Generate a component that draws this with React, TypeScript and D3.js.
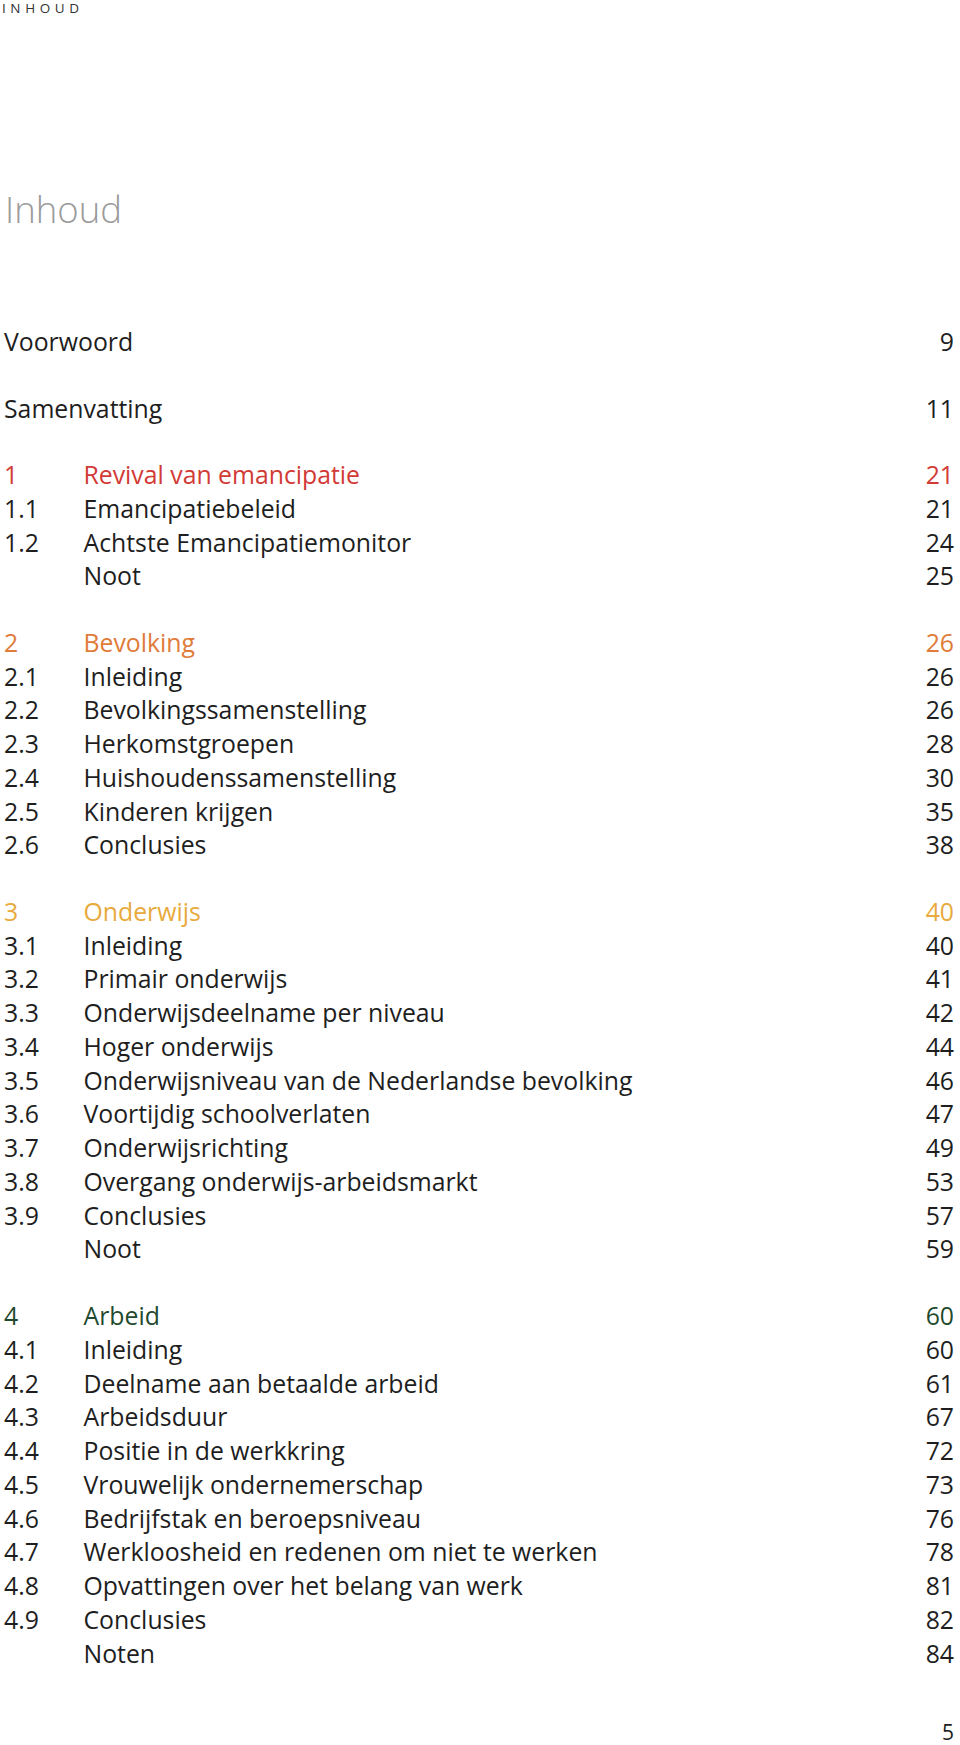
import React from "react";
import * as d3 from "d3";

const headerLabel = "INHOUD";
const pageTitle = "Inhoud";
const pageNumber = "5";

const sectionColors = ["#d23a35", "#e07b3a", "#e8aa3c", "#1f4a2e"];

const numbers = [
  "", "",
  "1", "1.1", "1.2", "",
  "2", "2.1", "2.2", "2.3", "2.4", "2.5", "2.6",
  "3", "3.1", "3.2", "3.3", "3.4", "3.5", "3.6", "3.7", "3.8", "3.9", "",
  "4", "4.1", "4.2", "4.3", "4.4", "4.5", "4.6", "4.7", "4.8", "4.9", "",
];
const titles = [
  "Voorwoord", "Samenvatting",
  "Revival van emancipatie", "Emancipatiebeleid", "Achtste Emancipatiemonitor", "Noot",
  "Bevolking", "Inleiding", "Bevolkingssamenstelling", "Herkomstgroepen", "Huishoudenssamenstelling", "Kinderen krijgen", "Conclusies",
  "Onderwijs", "Inleiding", "Primair onderwijs", "Onderwijsdeelname per niveau", "Hoger onderwijs",
  "Onderwijsniveau van de Nederlandse bevolking", "Voortijdig schoolverlaten", "Onderwijsrichting",
  "Overgang onderwijs-arbeidsmarkt", "Conclusies", "Noot",
  "Arbeid", "Inleiding", "Deelname aan betaalde arbeid", "Arbeidsduur", "Positie in de werkkring",
  "Vrouwelijk ondernemerschap", "Bedrijfstak en beroepsniveau", "Werkloosheid en redenen om niet te werken",
  "Opvattingen over het belang van werk", "Conclusies", "Noten",
];
const pages = [
  "9", "11",
  "21", "21", "24", "25",
  "26", "26", "26", "28", "30", "35", "38",
  "40", "40", "41", "42", "44", "46", "47", "49", "53", "57", "59",
  "60", "60", "61", "67", "72", "73", "76", "78", "81", "82", "84",
];
// index of section heading rows (chapter colour)
const chapterRows = [2, 6, 13, 24];
// rows preceded by a blank line
const gapRows = [1, 2, 6, 13, 24];

const W = 960;
const H = 1745;
const LINE = 33.75;
const GAP = 32.8;
const FIRST = 351;
const font = "'Open Sans', 'Noto Sans', sans-serif";

export default function App() {
  let y = FIRST;
  const rows = titles.map((t, i) => {
    if (i > 0) y += LINE + (gapRows.includes(i) ? GAP : 0);
    const ci = chapterRows.indexOf(i);
    return { num: numbers[i], title: t, page: pages[i], y, color: ci >= 0 ? sectionColors[ci] : "#1e1e1e" };
  });
  const xNum = 4;
  const xTitle = 83.5;
  const xPage = 954;
  const fs = 24.8;
  return (
    <svg width={W} height={H} style={{ position: "absolute", left: 0, top: 0, background: "#fff" }}>
      <text x={2} y={12.5} fontFamily={font} fontSize={13.5} letterSpacing={4.6} fill="#333">
        {headerLabel}
      </text>
      <text x={5} y={223} fontFamily={font} fontSize={36.5} fontWeight={300} fill="#9a9a9a">
        {pageTitle}
      </text>
      {rows.map((r, i) => (
        <g key={i} fill={r.color} fontFamily={font} fontSize={fs}>
          {r.num && <text x={xNum} y={r.y}>{r.num}</text>}
          <text x={r.num || i > 1 ? xTitle : xNum} y={r.y}>{r.title}</text>
          <text x={xPage} y={r.y} textAnchor="end">{r.page}</text>
        </g>
      ))}
      <text x={xPage} y={1740} textAnchor="end" fontFamily={font} fontSize={21} fill="#1e1e1e">
        {pageNumber}
      </text>
    </svg>
  );
}
